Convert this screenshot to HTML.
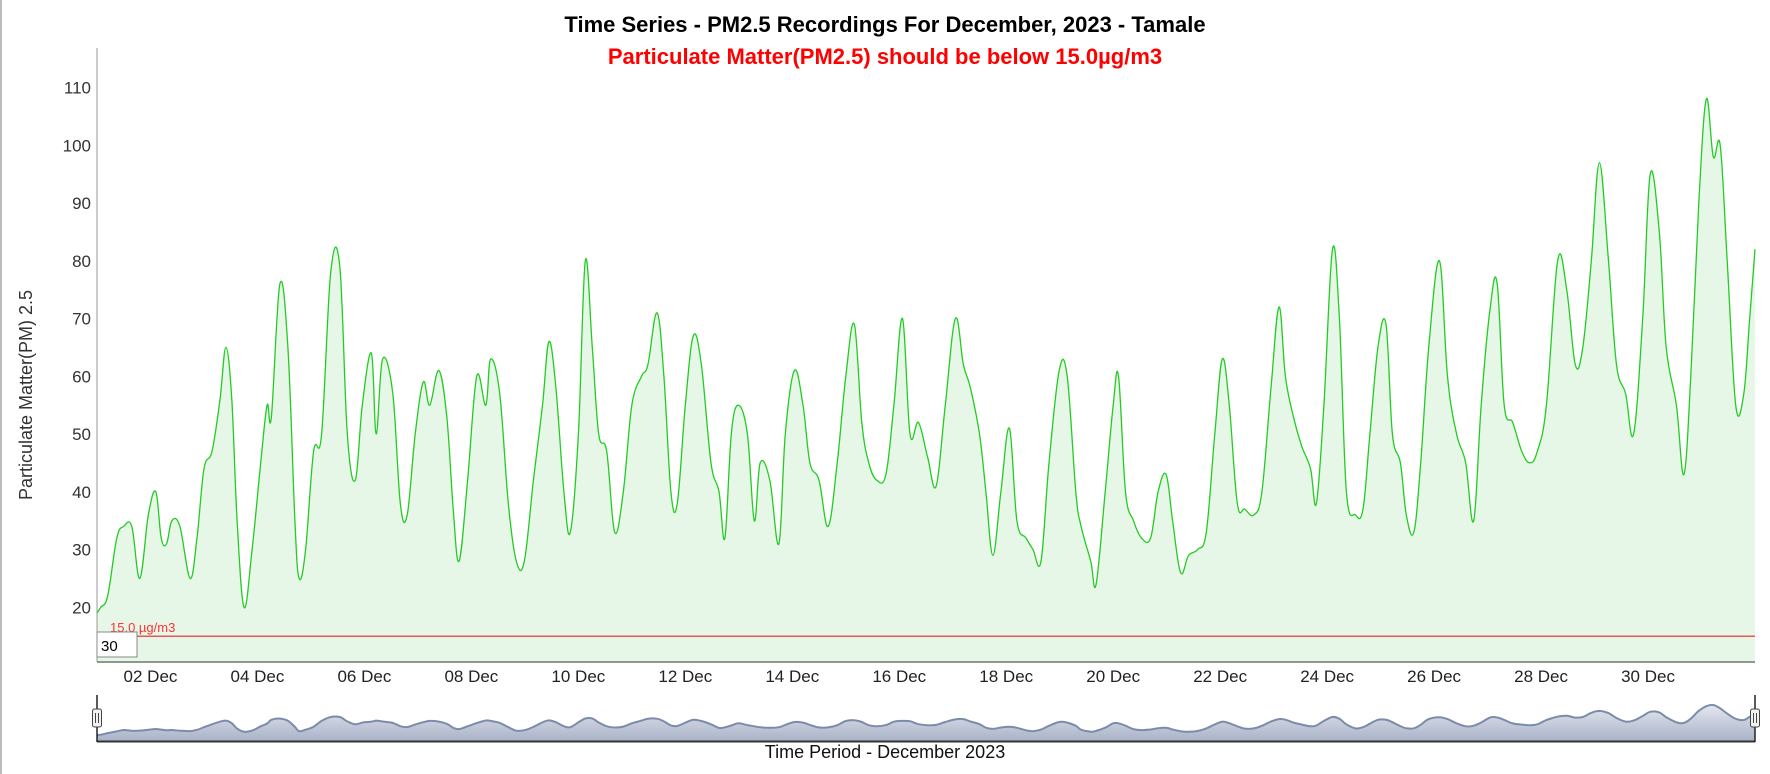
<!DOCTYPE html>
<html><head><meta charset="utf-8">
<style>
html,body{margin:0;padding:0;background:#fff;width:1770px;height:774px;overflow:hidden;font-family:"Liberation Sans",Arial,sans-serif}
svg text{font-family:"Liberation Sans",Arial,sans-serif}
</style></head>
<body>
<svg id="chart" width="1770" height="774" xmlns="http://www.w3.org/2000/svg">
<defs>
<linearGradient id="navg" x1="0" y1="0" x2="0" y2="1"><stop offset="0" stop-color="#e4e7ee"/><stop offset="1" stop-color="#a9b2c8"/></linearGradient>
</defs>
<rect x="0" y="0" width="2" height="774" fill="#bbb"/>
<text x="885" y="32" text-anchor="middle" font-size="22" font-weight="bold" fill="#000">Time Series - PM2.5 Recordings For December, 2023 - Tamale</text>
<text x="885" y="64" text-anchor="middle" font-size="22" font-weight="bold" fill="#ff0000">Particulate Matter(PM2.5) should be below 15.0µg/m3</text>
<text transform="translate(32,395) rotate(-90)" text-anchor="middle" font-size="18" fill="#333">Particulate Matter(PM) 2.5</text>
<g id="plot"></g>
<text x="885" y="758" text-anchor="middle" font-size="18" fill="#111">Time Period - December 2023</text>
</svg>
<script>
const days=[0,0.07,0.2,0.37,0.5,0.65,0.8,0.96,1.1,1.2,1.3,1.4,1.55,1.74,1.87,2.0,2.15,2.3,2.41,2.52,2.62,2.75,2.9,3.06,3.18,3.26,3.42,3.57,3.7,3.78,3.9,4.05,4.2,4.37,4.54,4.68,4.83,4.96,5.13,5.22,5.34,5.53,5.67,5.8,5.95,6.1,6.22,6.39,6.54,6.66,6.77,6.93,7.1,7.27,7.36,7.53,7.69,7.84,7.99,8.16,8.33,8.45,8.58,8.73,8.85,9.0,9.13,9.26,9.38,9.53,9.68,9.84,10.0,10.18,10.3,10.47,10.6,10.73,10.85,11.0,11.15,11.3,11.48,11.63,11.74,11.86,11.99,12.16,12.29,12.4,12.58,12.75,12.87,13.04,13.2,13.33,13.5,13.67,13.84,14.0,14.16,14.3,14.43,14.58,14.75,14.9,15.06,15.2,15.36,15.53,15.69,15.86,16.05,16.2,16.33,16.5,16.62,16.75,16.9,17.06,17.2,17.37,17.5,17.65,17.8,17.99,18.14,18.3,18.4,18.58,18.68,18.85,19.0,19.1,19.23,19.38,19.53,19.7,19.84,19.99,20.11,20.26,20.41,20.58,20.74,20.9,21.04,21.17,21.32,21.46,21.63,21.78,21.95,22.1,22.22,22.37,22.52,22.69,22.8,22.94,23.1,23.23,23.36,23.53,23.67,23.8,23.95,24.1,24.22,24.37,24.48,24.62,24.75,24.9,25.1,25.25,25.42,25.59,25.74,25.88,26.05,26.18,26.31,26.47,26.64,26.79,26.93,27.1,27.31,27.48,27.64,27.78,27.94,28.09,28.26,28.41,28.58,28.73,28.9,29.04,29.21,29.34,29.53,29.67,29.8,29.95,30.09,30.22,30.35,30.48,30.64,30.79,30.9,31.0];
const pm25=[19,20,22,32,34,34,25,36,40,32,31,35,34,25,32,44,47,56,65,56,35,20,30,45,55,53,76,65,35,25,30,47,50,78,79,50,42,55,64,50,63,57,38,36,50,59,55,61,53,37,28,42,60,55,63,57,38,28,28,42,55,66,58,40,33,50,80,65,50,47,33,40,55,60,62,71,60,40,38,55,67,62,45,40,32,50,55,50,35,45,42,31,50,61,55,45,42,34,45,60,69,52,45,42,43,55,70,50,52,46,41,55,70,62,58,50,40,29,40,51,35,32,30,28,45,61,60,40,34,28,24,40,55,60,40,35,32,32,40,43,35,26,29,30,33,50,63,55,38,37,36,40,58,72,60,53,48,44,38,55,82,70,40,36,37,50,65,69,50,45,36,33,45,65,80,60,50,45,35,55,72,76,55,52,47,45,47,55,80,75,62,65,80,97,80,62,57,50,70,95,85,65,55,43,60,90,108,98,100,80,55,57,70,82];
const yTicks=[20,30,40,50,60,70,80,90,100,110];
const xTickDays=[1,3,5,7,9,11,13,15,17,19,21,23,25,27,29];
const xTickLabels=["02 Dec","04 Dec","06 Dec","08 Dec","10 Dec","12 Dec","14 Dec","16 Dec","18 Dec","20 Dec","22 Dec","24 Dec","26 Dec","28 Dec","30 Dec"];
const threshold=15;

const L=97,R=1755,T=48,B=662;
const X=d=>L+(d/31)*(R-L);
const Y=v=>607.3-(v-20)*5.775;
const NS="http://www.w3.org/2000/svg";
const g=document.getElementById('plot');
function mk(t,a,p){const e=document.createElementNS(NS,t);for(const k in a)e.setAttribute(k,a[k]);(p||g).appendChild(e);return e;}
function smooth(P){
 let s='M'+P[0][0].toFixed(1)+','+P[0][1].toFixed(1);
 const k=0.18;
 for(let i=0;i<P.length-1;i++){
  const p0=P[Math.max(0,i-1)],p1=P[i],p2=P[i+1],p3=P[Math.min(P.length-1,i+2)];
  const c1=[p1[0]+(p2[0]-p0[0])*k,p1[1]+(p2[1]-p0[1])*k];
  const c2=[p2[0]-(p3[0]-p1[0])*k,p2[1]-(p3[1]-p1[1])*k];
  s+=' C'+c1[0].toFixed(1)+','+c1[1].toFixed(1)+' '+c2[0].toFixed(1)+','+c2[1].toFixed(1)+' '+p2[0].toFixed(1)+','+p2[1].toFixed(1);
 }
 return s;
}

const P=days.map((d,i)=>[X(d),Y(pm25[i])]);
const lp=smooth(P);
const area=mk('path',{d:lp+' L'+X(days[days.length-1])+','+B+' L'+X(days[0])+','+B+' Z',fill:'#e6f7e8'});


const line=mk('path',{d:lp,fill:'none',stroke:'#22cc22','stroke-width':1.3});



const ya=mk('line',{x1:L,y1:T,x2:L,y2:B,stroke:'#999','stroke-width':1});


const xa=mk('line',{x1:L,y1:B,x2:R,y2:B,stroke:'#6a7a6a','stroke-width':1.5});



yTicks.forEach(v=>{const t=mk('text',{x:91,y:Y(v)+6,'text-anchor':'end','font-size':17,fill:'#333'});t.textContent=v;

});
xTickDays.forEach((d,i)=>{const t=mk('text',{x:X(d),y:682,'text-anchor':'middle','font-size':17,fill:'#222'});t.textContent=xTickLabels[i];

});

const th=mk('line',{x1:L,y1:Y(threshold),x2:R,y2:Y(threshold),stroke:'#ee2222','stroke-width':1.2});


const tl=mk('text',{x:110,y:632,'font-size':13,fill:'#ff3333'});tl.textContent='15.0 µg/m3';



const rb=mk('rect',{x:97,y:632,width:40,height:25,fill:'#fff',stroke:'#888','stroke-width':1});


const rt=mk('text',{x:101,y:651,'font-size':15,fill:'#000'});rt.textContent='30';



const navVals=pm25.map((v,i)=>{let s=0,n=0;for(let j=i-1;j<=i+1;j++){if(j>=0&&j<pm25.length){s+=pm25[j];n++;}}return s/n;});
const vmin=Math.min(...navVals),vmax=Math.max(...navVals);
const NY=v=>740-5-(v-vmin)/(vmax-vmin)*30;
const NP=days.map((d,i)=>[X(d),NY(navVals[i])]);
const nlp=smooth(NP);
const na=mk('path',{d:nlp+' L'+R+',741 L'+L+',741 Z',fill:'url(#navg)'});


const nl=mk('path',{d:nlp,fill:'none',stroke:'#7d8bab','stroke-width':2});


const nb=mk('line',{x1:L,y1:741.5,x2:R,y2:741.5,stroke:'#333','stroke-width':2});


[L,R].forEach((x,i)=>{
 const s=mk('line',{x1:x,y1:695,x2:x,y2:742,stroke:'#222','stroke-width':1.5});
 
 
 const h=mk('rect',{x:x-4.5,y:709,width:9,height:18,rx:2,fill:'#f2f2f2',stroke:'#444','stroke-width':1});
 
 
 mk('line',{x1:x-1.5,y1:713,x2:x-1.5,y2:723,stroke:'#444'});
 mk('line',{x1:x+1.5,y1:713,x2:x+1.5,y2:723,stroke:'#444'});
});
</script>
</body></html>
